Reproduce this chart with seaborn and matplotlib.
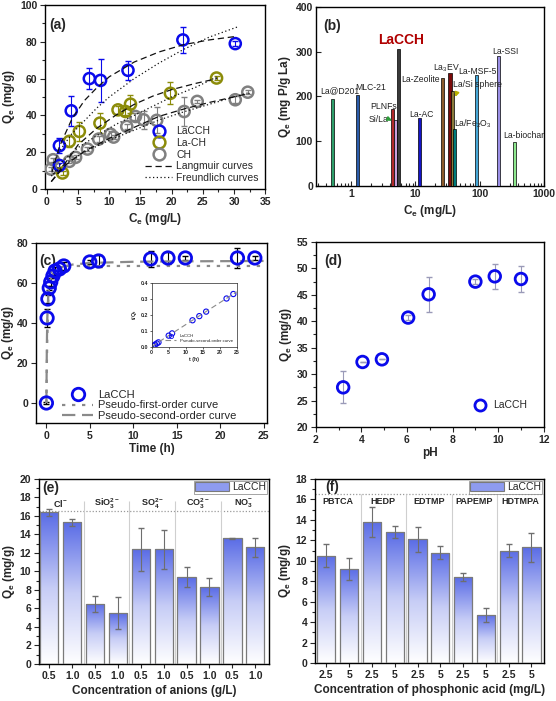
import numpy as np
import pandas as pd
import matplotlib
matplotlib.use("Agg")
import matplotlib.pyplot as plt
import seaborn as sns
from matplotlib.colors import LinearSegmentedColormap
from matplotlib.ticker import MultipleLocator, AutoMinorLocator
from matplotlib.lines import Line2D
from matplotlib.patches import Rectangle

# ---------------- data ----------------
# (a) isotherms
lacch_ce = [2.0, 2.0, 3.9, 6.8, 8.6, 13.0, 21.8, 30.2]
lacch_qe = [23.5, 12.8, 42.5, 60.0, 59.0, 64.5, 81.0, 79.0]
lacch_err = [4.0, 1.5, 8.0, 5.5, 11.5, 5.0, 7.0, 1.5]
lach_ce = [2.5, 3.6, 5.2, 8.5, 11.4, 12.6, 13.4, 19.8, 27.2]
lach_qe = [8.7, 25.9, 31.3, 35.8, 43.0, 42.1, 46.1, 52.0, 60.3]
lach_err = [1.0, 3.0, 5.0, 5.5, 2.0, 2.0, 5.0, 6.0, 1.0]
ch_ce = [0.65, 1.0, 3.6, 4.6, 6.5, 8.3, 10.2, 10.7, 12.8, 14.2, 15.5, 17.6, 22.0, 24.1, 30.2, 32.2]
ch_qe = [10.8, 15.9, 15.0, 17.2, 21.7, 27.1, 29.8, 28.2, 34.0, 39.4, 37.6, 37.3, 42.1, 47.6, 48.5, 52.6]
ch_err = [1.0, 1.0, 1.0, 1.0, 1.0, 1.5, 1.5, 1.0, 1.5, 2.0, 5.0, 7.0, 8.0, 1.0, 2.0, 1.0]

lang_lacch_x = [0.8, 2, 4, 6, 8, 10, 14, 18, 22, 26, 30.5]
lang_lacch_y = [9, 23, 38, 48, 55, 61, 69, 74.5, 78.5, 81, 83]
freu_lacch_x = [1, 2, 4, 6, 8, 10, 14, 18, 22, 26, 30.5]
freu_lacch_y = [14, 20.5, 30, 37, 44, 50, 60, 68.5, 76, 82.5, 88]
lang_lach_x = [0.7, 2.5, 5, 8, 11, 14, 17, 20, 24, 27.3]
lang_lach_y = [4, 12, 24, 33, 40, 46, 50.5, 54, 57.5, 60]
freu_lach_x = [1, 2.5, 5, 8, 11, 14, 17, 20, 24, 27.3]
freu_lach_y = [8, 15, 22.5, 29, 35, 40, 45, 50, 55.5, 61]
lang_ch_x = [0.7, 3, 6, 10, 14, 18, 22, 26, 32.5]
lang_ch_y = [4, 13, 20.5, 27.5, 33.5, 39.5, 43.5, 47, 52]
freu_ch_x = [0.7, 3, 6, 10, 14, 18, 22, 26, 32.5]
freu_ch_y = [7, 14, 20, 26.5, 32, 37.5, 42, 46, 52.5]

# (b) literature comparison
lit_names = ["La@D201", "MLC-21", "PLNFs", "Si/La", "LaCCH", "La-AC", "La-Zeolite",
             "La$_\\mathregular{3}$EV", "La/Si sphere", "La/Fe$_\\mathregular{2}$O$_\\mathregular{3}$",
             "La-MSF-5", "La-SSI", "La-biochar"]
lit_ce = [0.51, 1.24, 4.34, 4.89, 5.5, 11.7, 26.6, 34.6, 38.0, 40.8, 88.0, 198.0, 350.0]
lit_qe = [194, 204, 172, 147, 307, 153, 241, 253, 213, 128, 249, 291, 99]
lit_colors = ["#2e9e6a", "#2a5caa", "#b22a2a", "#c9a0dc", "#3a3a3a", "#1414c8", "#8b5a2b",
              "#7a0a0a", "#8b7b3a", "#007a7a", "#45a6d6", "#9b8fe6", "#8ee88e"]
lit_label_x = [0.325, 1.14, 1.95, 1.88, 2.63, 7.87, 6.06, 18.8, 38.6, 39.4, 47.1, 156, 236]
lit_label_y = [212, 219, 178, 149, 326, 159, 239, 264, 226, 139, 256, 300, 113]

# (c) kinetics
t_h = [0, 0.08, 0.17, 0.33, 0.5, 0.75, 1, 1.5, 2, 5, 6, 12, 14, 16, 22, 24]
qt = [0, 42.5, 52, 57.5, 60.5, 63.5, 66, 67, 68.5, 70.5, 71, 72, 72.5, 72.5, 72.5, 72.5]
qt_err = [0.5, 4.5, 2, 1, 2, 1, 2, 1, 2, 1, 3, 4, 3, 1, 5, 1]
pfo_t = [0, 0.05, 0.1, 0.2, 0.3, 0.5, 0.75, 1, 1.5, 2, 3, 5, 10, 25]
pfo_q = [0, 18, 32, 50, 58, 65, 67.5, 68.3, 68.5, 68.5, 68.5, 68.5, 68.5, 68.5]
pso_t = [0, 0.05, 0.1, 0.2, 0.3, 0.5, 0.75, 1, 1.5, 2, 3, 5, 10, 15, 25]
pso_q = [0, 28, 42, 53, 58, 62, 64.5, 66, 67.5, 68.3, 69.2, 70, 70.6, 70.8, 71]
inset_t = [0.5, 1, 1.5, 2, 5, 6, 12, 14, 16, 22, 24]
inset_tq = [0.008, 0.015, 0.022, 0.029, 0.071, 0.085, 0.167, 0.193, 0.221, 0.303, 0.331]
inset_fit_t = [0, 25]
inset_fit_tq = [0.003, 0.345]

# (d) pH
ph = [3.2, 4.05, 4.9, 6.05, 6.95, 9.0, 9.85, 11.0]
ph_qe = [27.5, 32.3, 32.8, 40.7, 45.1, 47.5, 48.5, 48.0]
ph_err = [3.0, 0.0, 0.0, 0.5, 3.3, 0.5, 2.4, 2.5]

# (e) anions
anion_groups = ["Cl$^\\mathregular{-}$", "SiO$_\\mathregular{3}^\\mathregular{2-}$", "SO$_\\mathregular{4}^\\mathregular{2-}$",
                "CO$_\\mathregular{3}^\\mathregular{2-}$", "NO$_\\mathregular{3}^\\mathregular{-}$"]
anion_conc = ["0.5", "1.0"]
anion_qe = [16.4, 15.3, 6.5, 5.5, 12.4, 12.4, 9.4, 8.3, 13.6, 12.6]
anion_err = [0.4, 0.4, 0.9, 1.7, 2.3, 2.1, 1.1, 1.0, 0.05, 1.0]

# (f) phosphonic acids
acid_groups = ["PBTCA", "HEDP", "EDTMP", "PAPEMP", "HDTMPA"]
acid_conc = ["2.5", "5"]
acid_qe = [10.5, 9.2, 13.8, 12.8, 12.1, 10.8, 8.4, 4.7, 11.0, 11.3]
acid_err = [1.1, 1.1, 1.5, 0.6, 1.2, 0.65, 0.4, 0.65, 0.6, 1.4]

# ---------------- style ----------------
sns.set_style("ticks")
plt.rcParams['font.family'] = ['Liberation Sans', 'DejaVu Sans']
plt.rcParams['font.weight'] = 'bold'
plt.rcParams['axes.labelweight'] = 'bold'
plt.rcParams['axes.linewidth'] = 1.0
plt.rcParams['xtick.labelsize'] = 7.5
plt.rcParams['ytick.labelsize'] = 7.5

BLUE = "#0a0aeb"
OLIVE = "#8c8c0a"
GRAY = "#808080"
QE = "Q$_\\mathregular{e}$ (mg/g)"
normal = {'weight': 'normal', 'size': 7.5}


def style(ax, direction='out'):
    for s in ax.spines.values():
        s.set_visible(True)
        s.set_color('black')
        s.set_linewidth(1.0)
    ax.tick_params(which='both', direction=direction, top=False, right=False, width=0.8, pad=2)
    ax.tick_params(which='major', length=3.5)
    ax.tick_params(which='minor', length=2)


fig = plt.figure(figsize=(5.56, 7.01), dpi=100)

# ---------------- (a) ----------------
ax = fig.add_axes([0.081, 0.7304, 0.396, 0.2625])
for xs, ys, es, col in [(ch_ce, ch_qe, ch_err, GRAY), (lach_ce, lach_qe, lach_err, OLIVE),
                        (lacch_ce, lacch_qe, lacch_err, BLUE)]:
    ax.errorbar(xs, ys, yerr=es, fmt='none', ecolor=col, elinewidth=0.8, capsize=2, zorder=2)
    sns.scatterplot(x=xs, y=ys, ax=ax, marker='o', s=64, facecolor='none', edgecolor=col,
                    linewidth=1.8, zorder=3)
for xs, ys in [(lang_lacch_x, lang_lacch_y), (lang_lach_x, lang_lach_y), (lang_ch_x, lang_ch_y)]:
    sns.lineplot(x=xs, y=ys, ax=ax, color='#111111', lw=0.9, ls=(0, (5, 3)), sort=False, estimator=None, zorder=4)
for xs, ys in [(freu_lacch_x, freu_lacch_y), (freu_lach_x, freu_lach_y), (freu_ch_x, freu_ch_y)]:
    sns.lineplot(x=xs, y=ys, ax=ax, color='#111111', lw=0.9, ls=(0, (1, 2)), sort=False, estimator=None, zorder=4)
ax.set_xlim(-0.3, 35)
ax.set_ylim(0, 100)
ax.xaxis.set_major_locator(MultipleLocator(5))
ax.yaxis.set_major_locator(MultipleLocator(20))
ax.yaxis.set_minor_locator(AutoMinorLocator(2))
ax.xaxis.set_minor_locator(AutoMinorLocator(2))
style(ax)
ax.set_xlabel("C$_\\mathregular{e}$ (mg/L)", fontsize=8.5, labelpad=3)
ax.set_ylabel(QE, fontsize=8.5, labelpad=2)
ax.text(0.3, 89, "(a)", fontsize=10, va='center', ha='left')
handles = [Line2D([], [], ls='none', marker='o', mfc='none', mec=c, mew=1.8, ms=8.5) for c in (BLUE, OLIVE, GRAY)]
handles += [Line2D([], [], color='#111111', ls=(0, (5, 3)), lw=0.9), Line2D([], [], color='#111111', ls=(0, (1, 2)), lw=0.9)]
ax.legend(handles, ["LaCCH", "La-CH", "CH", "Langmuir curves", "Freundlich curves"], loc='lower right',
          frameon=False, prop=normal, handlelength=2.6, labelspacing=0.15, borderaxespad=0.2, handletextpad=0.4)

# ---------------- (b) ----------------
ax = fig.add_axes([0.568, 0.7347, 0.410, 0.2553])
ax.set_xscale('log')
half = 10 ** 0.024
ax.bar([c / half for c in lit_ce], lit_qe, width=[c * half - c / half for c in lit_ce], align='edge',
       color=lit_colors, edgecolor='black', linewidth=0.5, zorder=3)
for name, lx, ly in zip(lit_names, lit_label_x, lit_label_y):
    if name == "LaCCH":
        ax.text(lx, ly, name, fontsize=10, color='#b00000', weight='bold', va='center', ha='left')
    else:
        ax.text(lx, ly, name, fontsize=6.2, weight='normal', va='center', ha='left', color='#222222')
ax.annotate("", xy=(4.75, 144), xytext=(3.6, 151),
            arrowprops=dict(arrowstyle='-|>', color='#2e9e3a', lw=1.2, mutation_scale=6))
ax.annotate("", xy=(40.5, 193), xytext=(45.5, 214),
            arrowprops=dict(arrowstyle='-|>', color='#b8b000', lw=1.2, mutation_scale=6))
ax.set_xlim(0.28, 1000)
ax.set_ylim(0, 400)
ax.yaxis.set_major_locator(MultipleLocator(100))
style(ax, direction='in')
ax.set_xticks([1, 10, 100, 1000], ["1", "10", "100", "1000"])
ax.set_xlabel("C$_\\mathregular{e}$ (mg/L)", fontsize=8.5, labelpad=3)
ax.set_ylabel("Q$_\\mathregular{e}$ (mg P/g La)", fontsize=8.5, labelpad=2)
ax.text(0.36, 358, "(b)", fontsize=10, va='center', ha='left')

# ---------------- (c) ----------------
ax = fig.add_axes([0.0647, 0.3966, 0.4155, 0.2568])
ax.errorbar(t_h, qt, yerr=qt_err, fmt='none', ecolor='black', elinewidth=0.8, capsize=2, zorder=2)
sns.lineplot(x=pfo_t, y=pfo_q, ax=ax, color='#8a8a8a', lw=1.6, ls=(0, (1.5, 3)), sort=False, estimator=None, zorder=3)
sns.lineplot(x=pso_t, y=pso_q, ax=ax, color='#8a8a8a', lw=1.6, ls=(0, (6, 3)), sort=False, estimator=None, zorder=3)
sns.scatterplot(x=t_h, y=qt, ax=ax, marker='o', s=80, facecolor='none', edgecolor=BLUE, linewidth=2.0, zorder=4)
ax.set_xlim(-1.2, 25.4)
ax.set_ylim(-10, 80)
ax.xaxis.set_major_locator(MultipleLocator(5))
ax.yaxis.set_major_locator(MultipleLocator(20))
style(ax)
ax.set_xlabel("Time (h)", fontsize=8.5, labelpad=2)
ax.set_ylabel(QE, fontsize=8.5, labelpad=0.5)
ax.text(-0.8, 71, "(c)", fontsize=10, va='center', ha='left', zorder=1)
handles = [Line2D([], [], ls='none', marker='o', mfc='none', mec=BLUE, mew=2.0, ms=9),
           Line2D([], [], color='#8a8a8a', ls=(0, (1.5, 3)), lw=1.6),
           Line2D([], [], color='#8a8a8a', ls=(0, (6, 3)), lw=1.6)]
ax.legend(handles, ["LaCCH", "Pseudo-first-order curve", "Pseudo-second-order curve"], loc='lower left',
          frameon=False, prop={'weight': 'normal', 'size': 8}, handlelength=2.8, labelspacing=0.05,
          borderaxespad=0.1, handletextpad=0.4, bbox_to_anchor=(0.09, -0.02))

axi = fig.add_axes([0.2728, 0.505, 0.153, 0.0913])
sns.lineplot(x=inset_fit_t, y=inset_fit_tq, ax=axi, color='#8a8a8a', lw=0.8, ls=(0, (5, 3)), estimator=None)
sns.scatterplot(x=inset_t, y=inset_tq, ax=axi, marker='o', s=14, facecolor='none', edgecolor=BLUE, linewidth=0.8)
axi.set_xlim(0, 25)
axi.set_ylim(0, 0.4)
axi.xaxis.set_major_locator(MultipleLocator(5))
axi.yaxis.set_major_locator(MultipleLocator(0.1))
for s in axi.spines.values():
    s.set_linewidth(0.5)
axi.tick_params(labelsize=3.8, length=1.5, width=0.5, pad=1)
axi.set_xlabel("t (h)", fontsize=3.8, labelpad=1)
axi.set_ylabel("t/Q$_\\mathregular{t}$", fontsize=3.8, labelpad=1)
handles = [Line2D([], [], ls='none', marker='o', mfc='none', mec=BLUE, mew=0.6, ms=3),
           Line2D([], [], color='#8a8a8a', ls=(0, (5, 3)), lw=0.8)]
axi.legend(handles, ["LaCCH", "Pseudo-second-order curve"], loc='lower right', frameon=False,
           prop={'weight': 'normal', 'size': 3.2}, labelspacing=0.1, handlelength=2.5)

# ---------------- (d) ----------------
ax = fig.add_axes([0.568, 0.3909, 0.410, 0.2639])
ax.errorbar(ph, ph_qe, yerr=ph_err, fmt='none', ecolor='#9a9ab8', elinewidth=0.8, capsize=2, zorder=2)
sns.scatterplot(x=ph, y=ph_qe, ax=ax, marker='o', s=70, facecolor='none', edgecolor=BLUE, linewidth=2.0, zorder=3)
ax.set_xlim(2, 12)
ax.set_ylim(20, 55)
ax.xaxis.set_major_locator(MultipleLocator(2))
ax.yaxis.set_major_locator(MultipleLocator(5))
ax.xaxis.set_minor_locator(AutoMinorLocator(2))
ax.yaxis.set_minor_locator(AutoMinorLocator(2))
style(ax)
ax.set_xlabel("pH", fontsize=8.5, labelpad=2)
ax.set_ylabel(QE, fontsize=8.5, labelpad=2)
ax.text(2.35, 51.4, "(d)", fontsize=10, va='center', ha='left')
ax.legend([Line2D([], [], ls='none', marker='o', mfc='none', mec=BLUE, mew=2.0, ms=8)], ["LaCCH"],
          loc='lower right', frameon=False, prop=normal, borderaxespad=1.2, handletextpad=0.3)

# ---------------- (e) & (f) ----------------
grad = LinearSegmentedColormap.from_list("grad", ["#ffffff", "#c7cdf6", "#5a6ce6"])


def gradient_bars(ax, groups, conc, values, errs, ylim, sep_top, lab_y, panel, panel_xy, xlabel, xlim):
    n = len(values)
    df = pd.DataFrame({"pos": [str(i) for i in range(n)], "qe": values})
    sns.barplot(data=df, x="pos", y="qe", ax=ax, errorbar=None, width=0.8, facecolor='none',
                edgecolor='#7a7a7a', linewidth=0.9, zorder=3)
    gimg = np.linspace(0, 1, 256).reshape(-1, 1)
    centers = []
    for p in ax.patches:
        x0, w, h = p.get_x(), p.get_width(), p.get_height()
        centers.append(x0 + w / 2)
        im = ax.imshow(gimg, extent=[x0, x0 + w, 0, h], origin='lower', aspect='auto', cmap=grad, zorder=2)
        im.set_clip_path(p)
    ax.errorbar(centers, values, yerr=errs, fmt='none', ecolor='#6e6e6e', elinewidth=0.8, capsize=2, zorder=4)
    ax.axhline(16.5, color='#9a9a9a', lw=0.9, ls=(0, (1, 1.5)), zorder=1)
    ax.vlines([1.5, 3.5, 5.5, 7.5], 0, sep_top, color='#cfcfcf', lw=0.8, zorder=1)
    for i, g in enumerate(groups):
        ax.text(2 * i + 0.5, lab_y, g, fontsize=6.5, ha='center', va='center')
    ax.set_xticks(range(n), conc * len(groups))
    ax.set_xlim(*xlim)
    ax.set_ylim(*ylim)
    ax.yaxis.set_major_locator(MultipleLocator(2))
    ax.yaxis.set_minor_locator(AutoMinorLocator(2))
    style(ax)
    ax.tick_params(axis='x', which='major', length=3)
    ax.set_xlabel(xlabel, fontsize=8.5, labelpad=3)
    ax.set_ylabel(QE, fontsize=8.5, labelpad=2)
    ax.text(panel_xy[0], panel_xy[1], panel, fontsize=10, ha='left', va='center')
    leg_patch = Rectangle((0, 0), 1, 1, facecolor='#8e9bf0', edgecolor='#7a7a7a', lw=0.8)
    ax.legend([leg_patch], ["LaCCH"], loc='upper right', prop=normal, frameon=True, fancybox=False,
              edgecolor='#7a7a7a', borderaxespad=0.15, handlelength=3.2, handleheight=1.0,
              borderpad=0.15, handletextpad=0.3).get_frame().set_linewidth(0.6)


ax = fig.add_axes([0.0701, 0.0528, 0.4137, 0.2639])
gradient_bars(ax, anion_groups, anion_conc, anion_qe, anion_err, (0, 20), 17.6, 17.3,
              "(e)", (-0.3, 19.0), "Concentration of anions (g/L)", (-0.45, 9.6))
ax = fig.add_axes([0.5665, 0.0542, 0.4119, 0.2625])
gradient_bars(ax, acid_groups, acid_conc, acid_qe, acid_err, (0, 18), 16.5, 15.8,
              "(f)", (-0.05, 17.2), "Concentration of phosphonic acid (mg/L)", (-0.5, 9.55))

plt.savefig("out.png", dpi=100)
print("saved out.png")
